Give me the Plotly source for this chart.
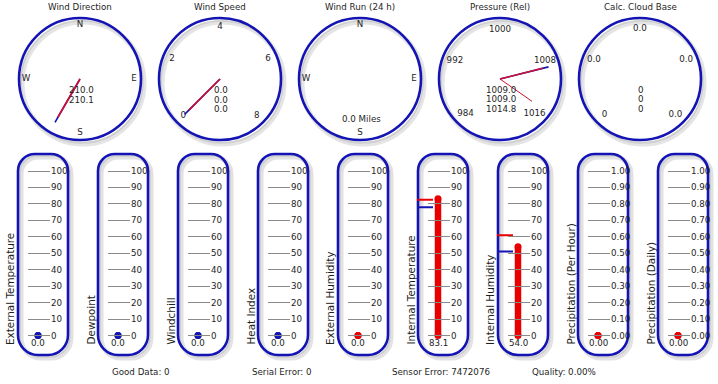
import plotly.graph_objects as go

W, H = 718, 384
BLUE = "#1414b4"
RED = "#e80000"
NEEDLE_RED = "#d01030"
TXT = "#1e1e1e"
FONT = "DejaVu Sans"
FS = 8.7

# ---------------- data ----------------
dial_titles = ["Wind Direction", "Wind Speed", "Wind Run (24 h)", "Pressure (Rel)", "Calc. Cloud Base"]
compass_labels = ["N", "E", "S", "W"]
compass_angles = [0, 90, 180, 270]
wind_dir_values = [210.0, 210.1]
wind_speed_values = [0.0, 0.0, 0.0]
wind_speed_ticks = [0, 2, 4, 6, 8]
wind_run_value = 0.0
pressure_values = [1009.0, 1009.0, 1014.8]
pressure_ticks = [984, 992, 1000, 1008, 1016]
cloud_values = [0, 0, 0]
cloud_tick_labels = ["0", "0.0", "0.0", "0.0", "0.0"]

therm_labels = ["External Temperature", "Dewpoint", "Windchill", "Heat Index",
                "External Humidity", "Internal Temperature", "Internal Humidity",
                "Precipitation (Per Hour)", "Precipitation (Daily)"]
therm_values = [0.0, 0.0, 0.0, 0.0, 0.0, 83.1, 54.0, 0.00, 0.00]
therm_value_text = ["0.0", "0.0", "0.0", "0.0", "0.0", "83.1", "54.0", "0.00", "0.00"]
therm_max = [None, None, None, None, None, 82.5, 61.0, None, None]
therm_min = [None, None, None, None, None, 78.0, 51.0, None, None]
pct_ticks = [0, 10, 20, 30, 40, 50, 60, 70, 80, 90, 100]
precip_ticks = [0.0, 0.1, 0.2, 0.3, 0.4, 0.5, 0.6, 0.7, 0.8, 0.9, 1.0]

status_labels = ["Good Data: 0", "Serial Error: 0", "Sensor Error: 7472076", "Quality: 0.00%"]

# ---------------- layout helpers ----------------
def px_x(x):
    return x / W

def px_y(y):
    return 1 - y / H

fig = go.Figure()
shapes = []
annotations = []

layout = dict(
    width=W, height=H, margin=dict(l=0, r=0, t=0, b=0),
    paper_bgcolor="white", plot_bgcolor="rgba(0,0,0,0)",
    showlegend=False,
    font=dict(family=FONT, size=FS, color=TXT),
    xaxis=dict(domain=[0, 1], range=[0, W], visible=False, fixedrange=True),
    yaxis=dict(domain=[0, 1], range=[H, 0], visible=False, fixedrange=True),
)
fig.add_trace(go.Scatter(x=[0], y=[0], mode="markers", marker=dict(opacity=0), hoverinfo="skip", xaxis="x", yaxis="y"))

def text(x, y, s, xanchor="center", yanchor="middle", angle=0, size=FS):
    annotations.append(dict(x=x, y=y, xref="x", yref="y", text=s, showarrow=False,
                            xanchor=xanchor, yanchor=yanchor, textangle=angle,
                            font=dict(family=FONT, size=size, color=TXT)))

# ---------------- dials ----------------
R = 61
CY = 79
dial_cx = [80, 220, 360, 500, 640]

def gauge_angle(v, lo, hi):
    return (225 + (v - lo) * 270.0 / (hi - lo)) % 360

for i, cx in enumerate(dial_cx):
    pid = "polar" if i == 0 else f"polar{i+1}"
    layout[pid] = dict(
        domain=dict(x=[px_x(cx - R), px_x(cx + R)], y=[px_y(CY + R), px_y(CY - R)]),
        bgcolor="rgba(0,0,0,0)",
        angularaxis=dict(rotation=90, direction="clockwise", showline=True, linecolor=BLUE,
                         linewidth=2.6, showticklabels=False, ticks="", showgrid=False),
        radialaxis=dict(visible=False, range=[0, 1]),
    )
    shapes.append(dict(type="circle", xref="x", yref="y", x0=cx - R + 3, x1=cx + R + 3,
                       y0=CY - R + 4, y1=CY + R + 4, line=dict(color="#e4e4e4", width=5), layer="below"))
    shapes.append(dict(type="circle", xref="x", yref="y", x0=cx - R + 2, x1=cx + R + 2,
                       y0=CY - R + 3, y1=CY + R + 3, line=dict(color="#cfcfcf", width=1.5), layer="below"))
    text(cx, 7, dial_titles[i])

def polar_text(sub, labels, thetas, r):
    fig.add_trace(go.Scatterpolar(r=[r] * len(labels), theta=thetas, text=labels, mode="text",
                                  textfont=dict(family=FONT, size=FS, color=TXT),
                                  subplot=sub, hoverinfo="skip"))

def needles(sub, thetas):
    specs = [(0.82, BLUE, 1.6), (0.72, NEEDLE_RED, 1.6), (0.64, NEEDLE_RED, 1.0)]
    for th, (r, c, w) in zip(thetas, specs):
        fig.add_trace(go.Scatterpolar(r=[0, r], theta=[th, th], mode="lines",
                                      line=dict(color=c, width=w), subplot=sub, hoverinfo="skip"))

polar_text("polar", compass_labels, compass_angles, 0.885)
needles("polar", wind_dir_values)
for k, v in enumerate(wind_dir_values):
    text(dial_cx[0] + 1, 90 + 10 * k, f"{v:.1f}")

polar_text("polar2", [str(t) for t in wind_speed_ticks],
           [gauge_angle(t, wind_speed_ticks[0], wind_speed_ticks[-1]) for t in wind_speed_ticks], 0.85)
needles("polar2", [gauge_angle(v, wind_speed_ticks[0], wind_speed_ticks[-1]) for v in wind_speed_values])
for k, v in enumerate(wind_speed_values):
    text(dial_cx[1] + 1, 90 + 9.7 * k, f"{v:.1f}")

polar_text("polar3", compass_labels, compass_angles, 0.885)
text(dial_cx[2] + 1, 119, f"{wind_run_value:.1f} Miles")

polar_text("polar4", [str(t) for t in pressure_ticks],
           [gauge_angle(t, pressure_ticks[0], pressure_ticks[-1]) for t in pressure_ticks], 0.8)
needles("polar4", [gauge_angle(v, pressure_ticks[0], pressure_ticks[-1]) for v in pressure_values])
for k, v in enumerate(pressure_values):
    text(dial_cx[3] + 1, 89.5 + 9.7 * k, f"{v:.1f}")

polar_text("polar5", cloud_tick_labels, [225, 292.5, 0, 67.5, 135], 0.82)
for k, v in enumerate(cloud_values):
    text(dial_cx[4] + 1, 89.5 + 9.7 * k, f"{v}")

# ---------------- thermometers ----------------
TOP, BOT = 154, 355
Y100, Y0 = 171.0, 335.5

def rrect(x0, y0, x1, y1, rt, rb):
    k = 0.5523
    return (f"M{x0+rt},{y0} L{x1-rt},{y0} C{x1-rt+k*rt},{y0} {x1},{y0+rt-k*rt} {x1},{y0+rt} "
            f"L{x1},{y1-rb} C{x1},{y1-rb+k*rb} {x1-rb+k*rb},{y1} {x1-rb},{y1} "
            f"L{x0+rb},{y1} C{x0+rb-k*rb},{y1} {x0},{y1-rb+k*rb} {x0},{y1-rb} "
            f"L{x0},{y0+rt} C{x0},{y0+rt-k*rt} {x0+rt-k*rt},{y0} {x0+rt},{y0} Z")

for i in range(9):
    L = 18 + 80 * i
    n = i + 2
    precip = i >= 7
    ticks = precip_ticks if precip else pct_ticks
    span = ticks[-1] - ticks[0]
    step = ticks[1] - ticks[0]
    unit_px = (Y0 - Y100) / span
    lo, hi = ticks[0] - step, ticks[-1] + step
    ybot = Y0 + step * unit_px
    ytop = Y100 - step * unit_px
    layout[f"xaxis{n}"] = dict(domain=[px_x(L - 3), px_x(L + 32)], range=[-23, 12],
                               visible=False, fixedrange=True, anchor=f"y{n}")
    layout[f"yaxis{n}"] = dict(domain=[px_y(ybot), px_y(ytop)], range=[lo, hi], anchor=f"x{n}",
                               side="right", tickvals=ticks,
                               ticktext=[f"{t:.2f}" if precip else f"{t:d}" for t in ticks],
                               ticks="inside", ticklen=22, tickcolor="#8a8a8a", tickwidth=1,
                               showgrid=False, zeroline=False, showline=False, fixedrange=True,
                               tickfont=dict(family=FONT, size=FS, color=TXT))
    shapes.append(dict(type="path", xref="x", yref="y", path=rrect(L + 3, TOP + 3, 50 + L + 3, BOT + 3, 17, 20),
                       line=dict(color="#e2e2e2", width=5), layer="below"))
    shapes.append(dict(type="path", xref="x", yref="y", path=rrect(L + 2, TOP + 2, 50 + L + 2, BOT + 2, 17, 20),
                       line=dict(color="#cdcdcd", width=1.5), layer="below"))
    shapes.append(dict(type="path", xref="x", yref="y", path=rrect(L, TOP, 50 + L, BOT, 17, 20),
                       line=dict(color=BLUE, width=2.6), layer="below"))
    col = BLUE if i < 4 else RED
    v = therm_values[i]
    xa, ya = f"x{n}", f"y{n}"
    fig.add_trace(go.Scatter(x=[0, 0], y=[ticks[0], v], mode="lines", line=dict(color=col, width=6.5),
                             xaxis=xa, yaxis=ya, hoverinfo="skip"))
    fig.add_trace(go.Scatter(x=[0, 0], y=[ticks[0], v], mode="markers",
                             marker=dict(color=col, size=7), xaxis=xa, yaxis=ya, hoverinfo="skip", cliponaxis=False))
    if therm_max[i] is not None:
        fig.add_trace(go.Scatter(x=[-21, -5], y=[therm_max[i]] * 2, mode="lines",
                                 line=dict(color=RED, width=2), xaxis=xa, yaxis=ya, hoverinfo="skip"))
    if therm_min[i] is not None:
        fig.add_trace(go.Scatter(x=[-21, -5], y=[therm_min[i]] * 2, mode="lines",
                                 line=dict(color=BLUE, width=2), xaxis=xa, yaxis=ya, hoverinfo="skip"))
    text(L + 20, 342.5, therm_value_text[i])
    text(L - 8, 347, therm_labels[i], yanchor="bottom", angle=-90, size=10.4)

for k, s in enumerate(status_labels):
    text(110 + 140 * k, 372, s, xanchor="left")

layout["shapes"] = shapes
layout["annotations"] = annotations
fig.update_layout(**layout)
fig.write_html("out.html", config={"displayModeBar": False, "staticPlot": True},
               post_script="document.body.style.margin='0';document.body.style.overflow='hidden';")
